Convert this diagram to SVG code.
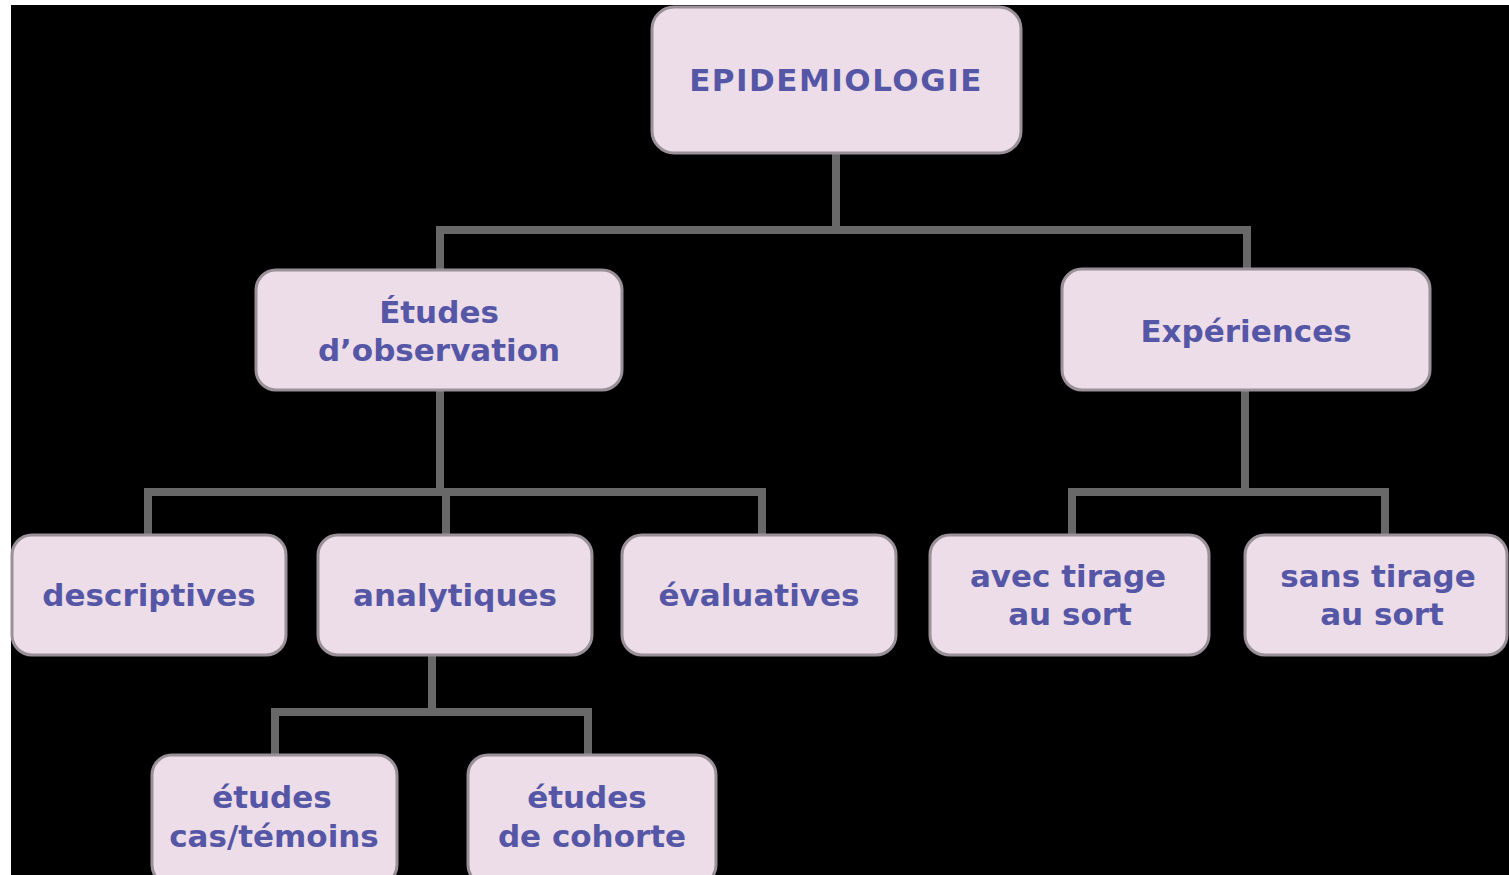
<svg xmlns="http://www.w3.org/2000/svg" width="1509" height="875" viewBox="0 0 1509 875">
<style>
.box{fill:#ecdde8;stroke:#9a9098;stroke-width:3}
.lbl{font-family:"DejaVu Sans",Verdana,sans-serif;font-weight:bold;font-size:31px;fill:#5656a6;text-anchor:middle}
.con{fill:none;stroke:#686868;stroke-width:8;stroke-linejoin:miter;stroke-linecap:square}
</style>
<rect x="0" y="0" width="1509" height="875" fill="#ffffff"/>
<rect x="11" y="5" width="1498" height="870" fill="#000000"/>
<g id="connectors">
<path class="con" d="M836,153 V230 M440,270 V230 H1247 V270"/>
<path class="con" d="M440,390 V492 M148,535 V492 H762 V535 M446,535 V492"/>
<path class="con" d="M1245,390 V492 M1072,535 V492 H1385 V535"/>
<path class="con" d="M432,655 V712 M275,755 V712 H588 V755"/>
</g>
<g id="n-epi"><rect class="box" x="652" y="7" width="369" height="146" rx="22"/><text class="lbl" x="836" y="91" letter-spacing="1.5">EPIDEMIOLOGIE</text></g>
<g id="n-obs"><rect class="box" x="256" y="270" width="366" height="120" rx="20"/><text class="lbl" x="439" y="323">Études</text><text class="lbl" x="439" y="361">d’observation</text></g>
<g id="n-exp"><rect class="box" x="1062" y="269" width="368" height="121" rx="20"/><text class="lbl" x="1246" y="342">Expériences</text></g>
<g id="n-desc"><rect class="box" x="12" y="535" width="274" height="120" rx="20"/><text class="lbl" x="149" y="606">descriptives</text></g>
<g id="n-ana"><rect class="box" x="318" y="535" width="274" height="120" rx="20"/><text class="lbl" x="455" y="606">analytiques</text></g>
<g id="n-eval"><rect class="box" x="622" y="535" width="274" height="120" rx="20"/><text class="lbl" x="759" y="606">évaluatives</text></g>
<g id="n-avec"><rect class="box" x="930" y="535" width="279" height="120" rx="20"/><text class="lbl" x="1068" y="587">avec tirage</text><text class="lbl" x="1070" y="625">au sort</text></g>
<g id="n-sans"><rect class="box" x="1245" y="535" width="262" height="120" rx="20"/><text class="lbl" x="1378" y="587">sans tirage</text><text class="lbl" x="1382" y="625">au sort</text></g>
<g id="n-cas"><rect class="box" x="152" y="755" width="245" height="130" rx="20"/><text class="lbl" x="272" y="808">études</text><text class="lbl" x="274" y="847">cas/témoins</text></g>
<g id="n-coh"><rect class="box" x="468" y="755" width="248" height="130" rx="20"/><text class="lbl" x="587" y="808">études</text><text class="lbl" x="592" y="847">de cohorte</text></g>
</svg>
